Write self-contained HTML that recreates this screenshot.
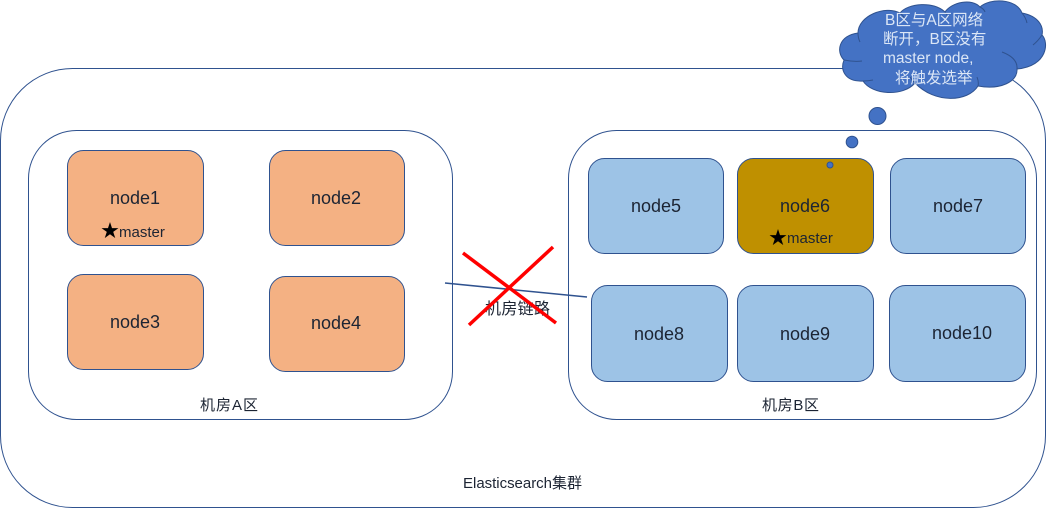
<!DOCTYPE html>
<html>
<head>
<meta charset="utf-8">
<style>
html,body{margin:0;padding:0;background:#fff;width:1047px;height:508px;overflow:hidden}
svg{display:block}
text{font-family:"Liberation Sans","Noto Sans CJK SC",sans-serif;fill:#1c2433}
.n{font-size:18px;text-anchor:middle}
.l{font-size:15px}
.c{font-size:15.5px;fill:#dbe6f6}
.m{font-size:15px}
.s{font-size:18px;fill:#000}
</style>
</head>
<body>
<svg width="1047" height="508" viewBox="0 0 1047 508" xmlns="http://www.w3.org/2000/svg">
<g fill="#fff" stroke="#2f528f" stroke-width="1">
<rect x="0.5" y="68.5" width="1045" height="439" rx="72" ry="72"/>
<rect x="28.5" y="130.5" width="424" height="289" rx="48" ry="48"/>
<rect x="568.5" y="130.5" width="468" height="289" rx="48" ry="48"/>
</g>
<g stroke="#2f528f" stroke-width="1">
<g fill="#f4b183">
<rect x="67.5" y="150.5" width="136" height="95" rx="16"/>
<rect x="269.5" y="150.5" width="135" height="95" rx="16"/>
<rect x="67.5" y="274.5" width="136" height="95" rx="16"/>
<rect x="269.5" y="276.5" width="135" height="95" rx="16"/>
</g>
<g fill="#9dc3e6">
<rect x="588.5" y="158.5" width="135" height="95" rx="16"/>
<rect x="890.5" y="158.5" width="135" height="95" rx="16"/>
<rect x="591.5" y="285.5" width="136" height="96" rx="16"/>
<rect x="737.5" y="285.5" width="136" height="96" rx="16"/>
<rect x="889.5" y="285.5" width="136" height="96" rx="16"/>
</g>
<rect x="737.5" y="158.5" width="136" height="95" rx="16" fill="#bf9000"/>
</g>
<text class="n" x="135" y="204">node1</text>
<text class="n" x="336" y="204">node2</text>
<text class="n" x="135" y="328">node3</text>
<text class="n" x="336" y="329">node4</text>
<text class="n" x="656" y="212">node5</text>
<text class="n" x="805" y="212">node6</text>
<text class="n" x="958" y="212">node7</text>
<text class="n" x="659" y="340">node8</text>
<text class="n" x="805" y="340">node9</text>
<text class="n" x="962" y="339">node10</text>
<text class="s" x="101" y="237">★</text>
<text class="m" x="119" y="237">master</text>
<text class="s" x="769" y="244">★</text>
<text class="m" x="787" y="243">master</text>
<text class="l" x="200" y="410" textLength="58">机房A区</text>
<text class="l" x="762" y="410" textLength="57">机房B区</text>
<text class="l" x="463" y="488" textLength="119">Elasticsearch集群</text>
<line x1="445" y1="283" x2="587" y2="297" stroke="#2f528f" stroke-width="1.5"/>
<text x="485" y="314" style="font-size:16px" textLength="65">机房链路</text>
<line x1="463" y1="253" x2="556" y2="323" stroke="#ff0000" stroke-width="3.5"/>
<line x1="553" y1="247" x2="469" y2="325" stroke="#ff0000" stroke-width="3.5"/>
<path d="M844 60 C836 52 838 36 858 33 C858 16 885 5 900 13 C908 3 934 1 945 12 C952 2 972 -2 980 7 C990 -2 1016 -2 1022 13 C1038 16 1044 26 1042 35 C1049 42 1048 66 1017 69 C1018 82 1000 90 978 86 C968 102 935 104 915 83 C903 97 872 95 863 81 C845 82 840 70 844 60 Z" fill="#4472c4" stroke="#2f528f"/>
<path d="M844 60 Q854 62 862 61 M858 33 Q858 38 860 42 M900 13 Q905 17 906 22 M945 12 Q947 14 948 17 M980 7 Q984 9 985 12 M1022 13 Q1026 18 1027 23 M1042 35 Q1038 41 1033 45 M1017 69 Q1018 58 1002 52 M978 86 Q979 82 977 77 M915 83 Q912 80 910 77 M863 81 Q868 81 873 80" fill="none" stroke="#2f528f"/>
<text class="c" x="885" y="25">B区与A区网络</text>
<text class="c" x="883" y="44">断开，B区没有</text>
<text class="c" x="883" y="63">master node,</text>
<text class="c" x="895" y="83">将触发选举</text>
<circle cx="877.5" cy="116" r="8.5" fill="#4472c4" stroke="#2f528f"/>
<circle cx="852" cy="142" r="5.8" fill="#4472c4" stroke="#2f528f"/>
<circle cx="830" cy="165" r="3" fill="#4472c4" stroke="#2f528f"/>
</svg>
</body>
</html>
